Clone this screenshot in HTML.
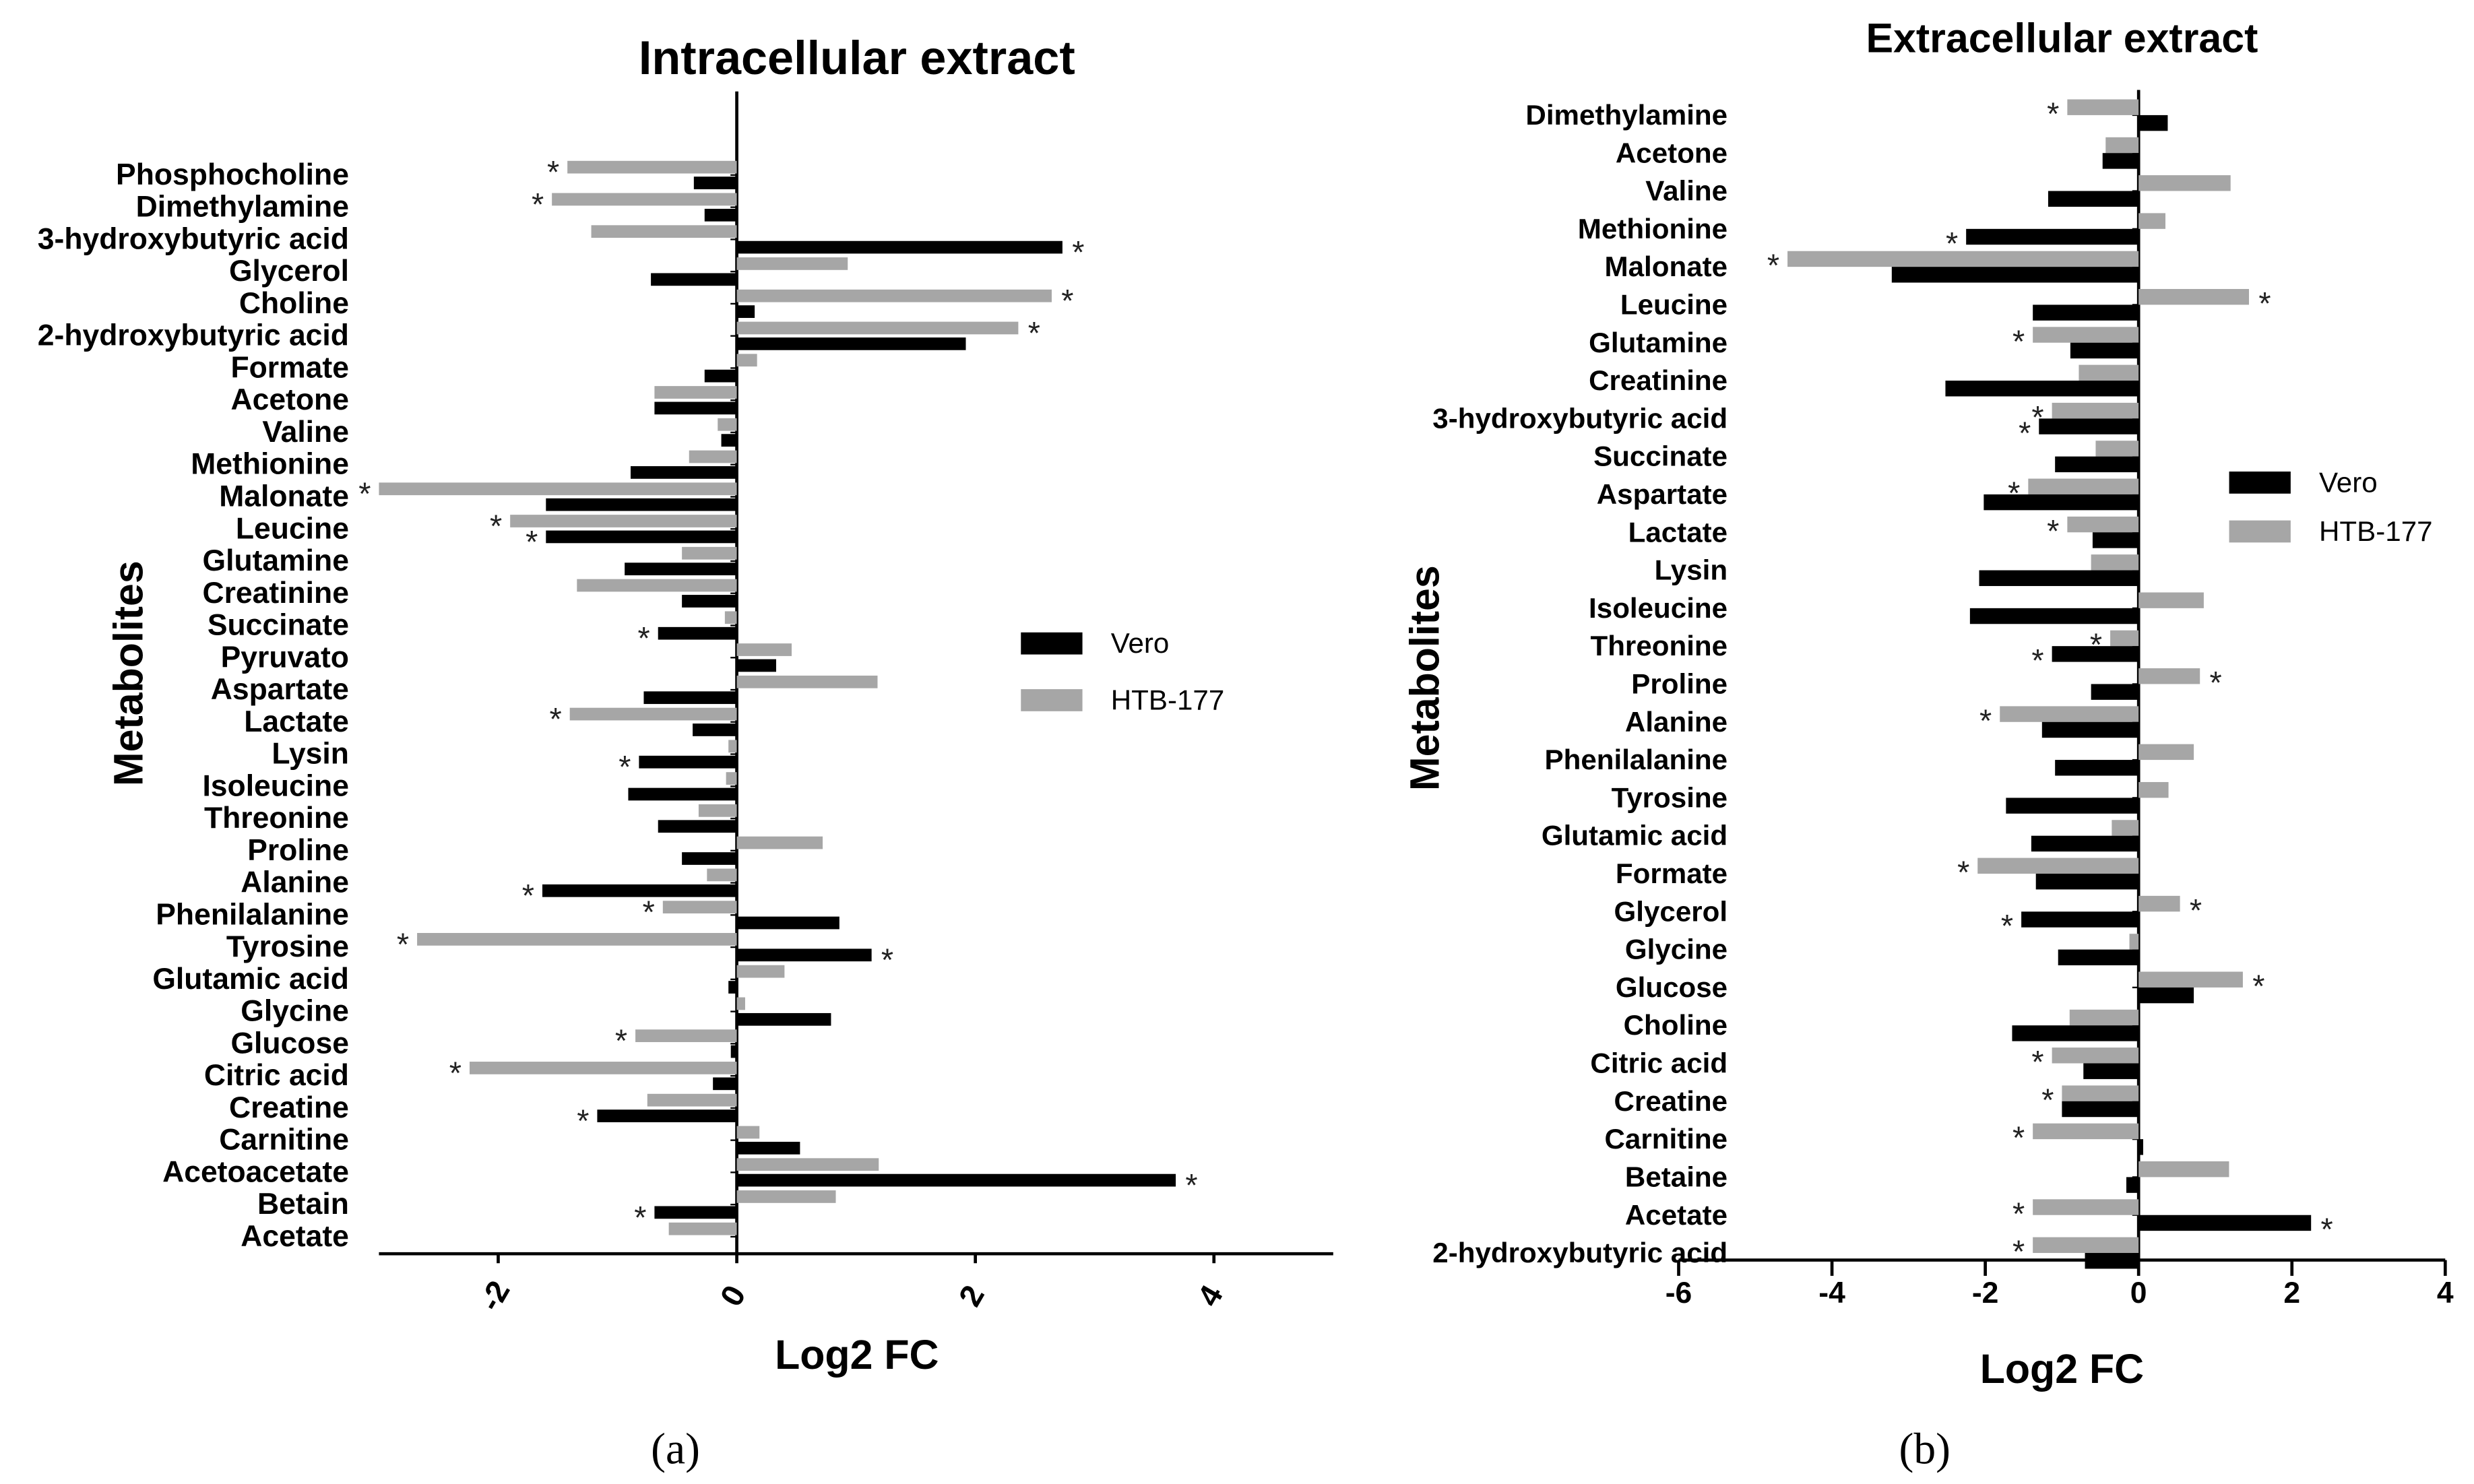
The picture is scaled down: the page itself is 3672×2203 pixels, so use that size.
<!DOCTYPE html>
<html><head><meta charset="utf-8"><style>
html,body{margin:0;padding:0;background:#fff}
svg{display:block}
text{font-family:"Liberation Sans",Arial,sans-serif}
</style></head><body>
<svg id="chart" width="3672" height="2203" viewBox="0 0 1568 941" xmlns="http://www.w3.org/2000/svg">
<g id="pa"></g>
<g id="pb"></g>
</svg>
<script>
// ---- Panel A data ----
const catsA = ["Phosphocholine","Dimethylamine","3-hydroxybutyric acid","Glycerol","Choline","2-hydroxybutyric acid","Formate","Acetone","Valine","Methionine","Malonate","Leucine","Glutamine","Creatinine","Succinate","Pyruvato","Aspartate","Lactate","Lysin","Isoleucine","Threonine","Proline","Alanine","Phenilalanine","Tyrosine","Glutamic acid","Glycine","Glucose","Citric acid","Creatine","Carnitine","Acetoacetate","Betain","Acetate"];
const htbA = [-1.42,-1.55,-1.22,0.93,2.64,2.36,0.17,-0.69,-0.16,-0.4,-3.0,-1.9,-0.46,-1.34,-0.1,0.46,1.18,-1.4,-0.07,-0.09,-0.32,0.72,-0.25,-0.62,-2.68,0.4,0.07,-0.85,-2.24,-0.75,0.19,1.19,0.83,-0.57];
const veroA = [-0.36,-0.27,2.73,-0.72,0.15,1.92,-0.27,-0.69,-0.13,-0.89,-1.6,-1.6,-0.94,-0.46,-0.66,0.33,-0.78,-0.37,-0.82,-0.91,-0.66,-0.46,-1.63,0.86,1.13,-0.07,0.79,-0.05,-0.2,-1.17,0.53,3.68,-0.69,0];
const starHtbA = [0,1,4,5,10,11,17,23,24,27,28];
const starVeroA = [2,11,14,18,22,24,29,31,32];
const ticksA = [-2,0,2,4];
// ---- Panel B data ----
const catsB = ["Dimethylamine","Acetone","Valine","Methionine","Malonate","Leucine","Glutamine","Creatinine","3-hydroxybutyric acid","Succinate","Aspartate","Lactate","Lysin","Isoleucine","Threonine","Proline","Alanine","Phenilalanine","Tyrosine","Glutamic acid","Formate","Glycerol","Glycine","Glucose","Choline","Citric acid","Creatine","Carnitine","Betaine","Acetate","2-hydroxybutyric acid"];
const htbB = [-0.93,-0.43,1.2,0.35,-4.58,1.44,-1.38,-0.78,-1.13,-0.56,-1.44,-0.93,-0.62,0.85,-0.37,0.8,-1.81,0.72,0.39,-0.35,-2.1,0.54,-0.12,1.36,-0.9,-1.13,-1.0,-1.38,1.18,-1.38,-1.38];
const veroB = [0.38,-0.47,-1.18,-2.25,-3.22,-1.38,-0.89,-2.52,-1.3,-1.09,-2.02,-0.6,-2.08,-2.2,-1.13,-0.62,-1.26,-1.09,-1.73,-1.4,-1.34,-1.53,-1.05,0.72,-1.65,-0.72,-1.0,0.06,-0.16,2.25,-0.7];
const starHtbB = [0,4,5,6,8,10,11,14,15,16,20,21,23,25,26,27,29,30];
const starVeroB = [3,8,14,21,29];
const ticksB = [-6,-4,-2,0,2,4];

const NS="http://www.w3.org/2000/svg";
function mk(parent,tag,attrs,txt){const e=document.createElementNS(NS,tag);for(const k in attrs)e.setAttribute(k,attrs[k]);if(txt!==undefined)e.textContent=txt;parent.appendChild(e);return e;}

function panel(g,cfg){
  const x=v=>cfg.x0+(v-cfg.dmin)/(cfg.dmax-cfg.dmin)*(cfg.x1-cfg.x0);
  const zero=x(0);
  const rowY=i=>cfg.yFirst+i*cfg.step;
  let ax=mk(g,'line',{x1:cfg.x0,x2:cfg.x1,y1:cfg.axisY,y2:cfg.axisY,stroke:'#000','stroke-width':2});
  
  let ay=mk(g,'line',{x1:zero,x2:zero,y1:cfg.yTop,y2:cfg.axisY,stroke:'#000','stroke-width':2});
  
  cfg.ticks.forEach(t=>{
    const tx=x(t);
    let tl=mk(g,'line',{x1:tx,x2:tx,y1:cfg.axisY,y2:cfg.axisY+cfg.tickLen,stroke:'#000','stroke-width':2});
    
    let lb;
    if(cfg.rot){lb=mk(g,'text',{x:tx,y:cfg.axisY+32,'font-size':20,'font-weight':'bold','text-anchor':'middle',transform:`rotate(-60 ${tx} ${cfg.axisY+28})`},String(t));}
    else{lb=mk(g,'text',{x:tx,y:cfg.axisY+cfg.lblDy,'font-size':19,'font-weight':'bold','text-anchor':'middle'},String(t));}
    
  });
  cfg.cats.forEach((c,i)=>{
    const y=rowY(i);
    let l=mk(g,'text',{x:cfg.labelX,y:y+6,'font-size':cfg.fs,'font-weight':'bold','text-anchor':'end'},c);
    
    let tk=mk(g,'line',{x1:zero-4,x2:zero,y1:y,y2:y,stroke:'#000','stroke-width':1});
    
    const vals=[[cfg.htb[i],'#a6a6a6',y-cfg.off-cfg.bh/2,cfg.sh,'htb-bar'],[cfg.vero[i],'#000',y+cfg.off-cfg.bh/2,cfg.sv,'vero-bar']];
    vals.forEach(([v,col,by,stars,nm])=>{
      const xa=Math.min(zero,x(v)),w=Math.abs(x(v)-zero);
      let r=mk(g,'rect',{x:xa,y:by,width:w,height:cfg.bh,fill:col});
      
      if(stars.includes(i)){
        const sx=v<0?x(v)-9:x(v)+10;
        let s=mk(g,'text',{x:sx,y:by+cfg.bh+6,'font-size':20,'text-anchor':'middle',fill:'#222'},'*');
        
      }
    });
  });
  let t=mk(g,'text',{x:cfg.titleX,y:cfg.titleY,'font-size':cfg.tfs,'font-weight':'bold','text-anchor':'middle'},cfg.title);
  
  let xt=mk(g,'text',{x:cfg.titleX,y:cfg.xtY,'font-size':26,'font-weight':'bold','text-anchor':'middle'},'Log2 FC');
  
  let yt=mk(g,'text',{x:cfg.ytX,y:cfg.ytY,'font-size':26,'font-weight':'bold','text-anchor':'middle',transform:`rotate(-90 ${cfg.ytX} ${cfg.ytY})`},'Metabolites');
  
  [['#000','Vero',0],['#a6a6a6','HTB-177',cfg.legGap]].forEach(([col,lab,dy])=>{
    const lg=mk(g,'g',{});
    
    mk(lg,'rect',{x:cfg.legX,y:cfg.legY+dy,width:39,height:14,fill:col});
    mk(lg,'text',{x:cfg.legX+57,y:cfg.legY+dy+13,'font-size':18},lab);
  });
  let cap=mk(g,'text',{x:cfg.capX,y:928,'font-size':28,'text-anchor':'middle',style:'font-family:"Liberation Serif",serif'},cfg.cap);
  
}

panel(document.getElementById('pa'),{cats:catsA,htb:htbA,vero:veroA,sh:starHtbA,sv:starVeroA,ticks:ticksA,
 dmin:-3,dmax:5,x0:240,x1:845,axisY:795,yTop:58,tickLen:6,lblDy:24,yFirst:111,step:20.4,off:5,bh:8,labelX:221,fs:19,rot:true,
 title:'Intracellular extract',titleX:543,titleY:47,tfs:30,xtY:868,ytX:90,ytY:427,legX:647,legY:401,legGap:36,capX:428,cap:'(a)'});
panel(document.getElementById('pb'),{cats:catsB,htb:htbB,vero:veroB,sh:starHtbB,sv:starVeroB,ticks:ticksB,
 dmin:-6,dmax:4,x0:1064,x1:1550,axisY:799,yTop:57,tickLen:10,lblDy:27,yFirst:73,step:24.05,off:5,bh:10,labelX:1095,fs:18,rot:false,
 title:'Extracellular extract',titleX:1307,titleY:33,tfs:26,xtY:877,ytX:912,ytY:430,legX:1413,legY:299,legGap:31,capX:1220,cap:'(b)'});
</script>
</body></html>
